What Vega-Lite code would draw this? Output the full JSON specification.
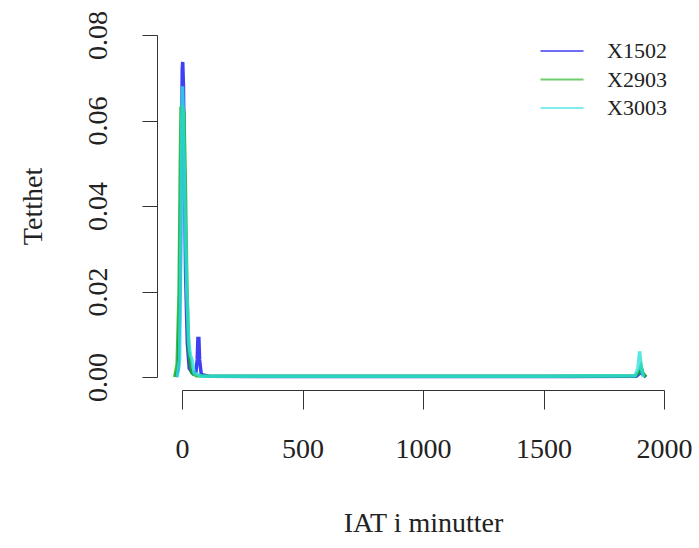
{
  "$schema": "https://vega.github.io/schema/vega-lite/v6.json",
  "autosize": "none",
  "width": 482,
  "height": 342,
  "padding": {"left": 182, "top": 35, "right": 35, "bottom": 171},
  "background": "white",
  "config": {
    "view": {"stroke": null},
    "font": "Liberation Serif",
    "axis": {
      "grid": false,
      "domainColor": "#333333",
      "tickColor": "#333333",
      "labelColor": "#222222",
      "titleColor": "#222222",
      "labelFont": "Liberation Serif",
      "titleFont": "Liberation Serif",
      "labelFontSize": 28,
      "titleFontSize": 28,
      "titleFontWeight": "normal"
    }
  },
  "data": {
    "values": [
      {"s": "X1502", "x": -25, "y": 0},
      {"s": "X1502", "x": -15, "y": 0.002},
      {"s": "X1502", "x": -8, "y": 0.02},
      {"s": "X1502", "x": -3, "y": 0.05},
      {"s": "X1502", "x": 1, "y": 0.072},
      {"s": "X1502", "x": 3, "y": 0.0737},
      {"s": "X1502", "x": 6, "y": 0.068},
      {"s": "X1502", "x": 10, "y": 0.048},
      {"s": "X1502", "x": 15, "y": 0.024},
      {"s": "X1502", "x": 22, "y": 0.008},
      {"s": "X1502", "x": 30, "y": 0.002},
      {"s": "X1502", "x": 45, "y": 0.0008},
      {"s": "X1502", "x": 58, "y": 0.0012},
      {"s": "X1502", "x": 63, "y": 0.004},
      {"s": "X1502", "x": 66, "y": 0.009},
      {"s": "X1502", "x": 70, "y": 0.009},
      {"s": "X1502", "x": 73, "y": 0.004},
      {"s": "X1502", "x": 80, "y": 0.0006},
      {"s": "X1502", "x": 110, "y": 0.0002},
      {"s": "X1502", "x": 400, "y": 0.0001},
      {"s": "X1502", "x": 1000, "y": 0.0001},
      {"s": "X1502", "x": 1600, "y": 0.0001},
      {"s": "X1502", "x": 1885, "y": 0.0002},
      {"s": "X1502", "x": 1898, "y": 0.0008},
      {"s": "X1502", "x": 1905, "y": 0.0015},
      {"s": "X1502", "x": 1912, "y": 0.0006},
      {"s": "X1502", "x": 1925, "y": 0},
      {"s": "X2903", "x": -30, "y": 0},
      {"s": "X2903", "x": -20, "y": 0.003},
      {"s": "X2903", "x": -12, "y": 0.02},
      {"s": "X2903", "x": -7, "y": 0.05},
      {"s": "X2903", "x": -4, "y": 0.063},
      {"s": "X2903", "x": 2, "y": 0.0632},
      {"s": "X2903", "x": 8, "y": 0.062},
      {"s": "X2903", "x": 14, "y": 0.045},
      {"s": "X2903", "x": 20, "y": 0.022},
      {"s": "X2903", "x": 28, "y": 0.006},
      {"s": "X2903", "x": 40, "y": 0.001},
      {"s": "X2903", "x": 60, "y": 0.0003},
      {"s": "X2903", "x": 120, "y": 0.0002},
      {"s": "X2903", "x": 500, "y": 0.0002},
      {"s": "X2903", "x": 1000, "y": 0.0002},
      {"s": "X2903", "x": 1500, "y": 0.0002},
      {"s": "X2903", "x": 1880, "y": 0.0003},
      {"s": "X2903", "x": 1895, "y": 0.001},
      {"s": "X2903", "x": 1905, "y": 0.0025},
      {"s": "X2903", "x": 1912, "y": 0.001},
      {"s": "X2903", "x": 1925, "y": 0},
      {"s": "X3003", "x": -20, "y": 0},
      {"s": "X3003", "x": -10, "y": 0.004},
      {"s": "X3003", "x": -5, "y": 0.03},
      {"s": "X3003", "x": -1, "y": 0.06},
      {"s": "X3003", "x": 2, "y": 0.068},
      {"s": "X3003", "x": 6, "y": 0.06},
      {"s": "X3003", "x": 12, "y": 0.04},
      {"s": "X3003", "x": 20, "y": 0.02},
      {"s": "X3003", "x": 28, "y": 0.008},
      {"s": "X3003", "x": 35, "y": 0.005},
      {"s": "X3003", "x": 42, "y": 0.004},
      {"s": "X3003", "x": 50, "y": 0.001},
      {"s": "X3003", "x": 80, "y": 0.0002},
      {"s": "X3003", "x": 500, "y": 0.0002},
      {"s": "X3003", "x": 1000, "y": 0.0002},
      {"s": "X3003", "x": 1500, "y": 0.0002},
      {"s": "X3003", "x": 1880, "y": 0.0003},
      {"s": "X3003", "x": 1892, "y": 0.002},
      {"s": "X3003", "x": 1899, "y": 0.006},
      {"s": "X3003", "x": 1906, "y": 0.002},
      {"s": "X3003", "x": 1915, "y": 0}
    ]
  },
  "mark": {"type": "line", "strokeWidth": 3.5, "opacity": 0.8, "clip": false},
  "encoding": {
    "x": {
      "field": "x", "type": "quantitative",
      "scale": {"domain": [0, 2000], "nice": false, "zero": false},
      "axis": {
        "title": "IAT i minutter",
        "values": [0, 500, 1000, 1500, 2000],
        "format": "d",
        "offset": 13,
        "tickSize": 19,
        "labelPadding": 26,
        "titlePadding": 46,
        "labelFlush": false,
        "labelOverlap": false
      }
    },
    "y": {
      "field": "y", "type": "quantitative",
      "scale": {"domain": [0, 0.08], "nice": false},
      "axis": {
        "title": "Tetthet",
        "values": [0, 0.02, 0.04, 0.06, 0.08],
        "format": ".2f",
        "offset": 25,
        "tickSize": 15,
        "labelAngle": -90,
        "labelAlign": "center",
        "labelBaseline": "bottom",
        "labelPadding": 30,
        "titlePadding": 37,
        "labelFlush": false,
        "labelOverlap": false
      }
    },
    "color": {
      "field": "s", "type": "nominal",
      "scale": {"domain": ["X1502", "X2903", "X3003"], "range": ["#1010f0", "#10b010", "#30e0e0"]},
      "legend": {
        "title": null,
        "orient": "none",
        "legendX": 368,
        "legendY": 4,
        "padding": 0,
        "symbolType": "M-2,0L2,0",
        "symbolSize": 462,
        "symbolStrokeWidth": 2,
        "symbolOpacity": 0.6,
        "labelOffset": 33,
        "labelFont": "Liberation Serif",
        "labelFontSize": 22,
        "labelColor": "#222222",
        "rowPadding": 5.5
      }
    }
  }
}
